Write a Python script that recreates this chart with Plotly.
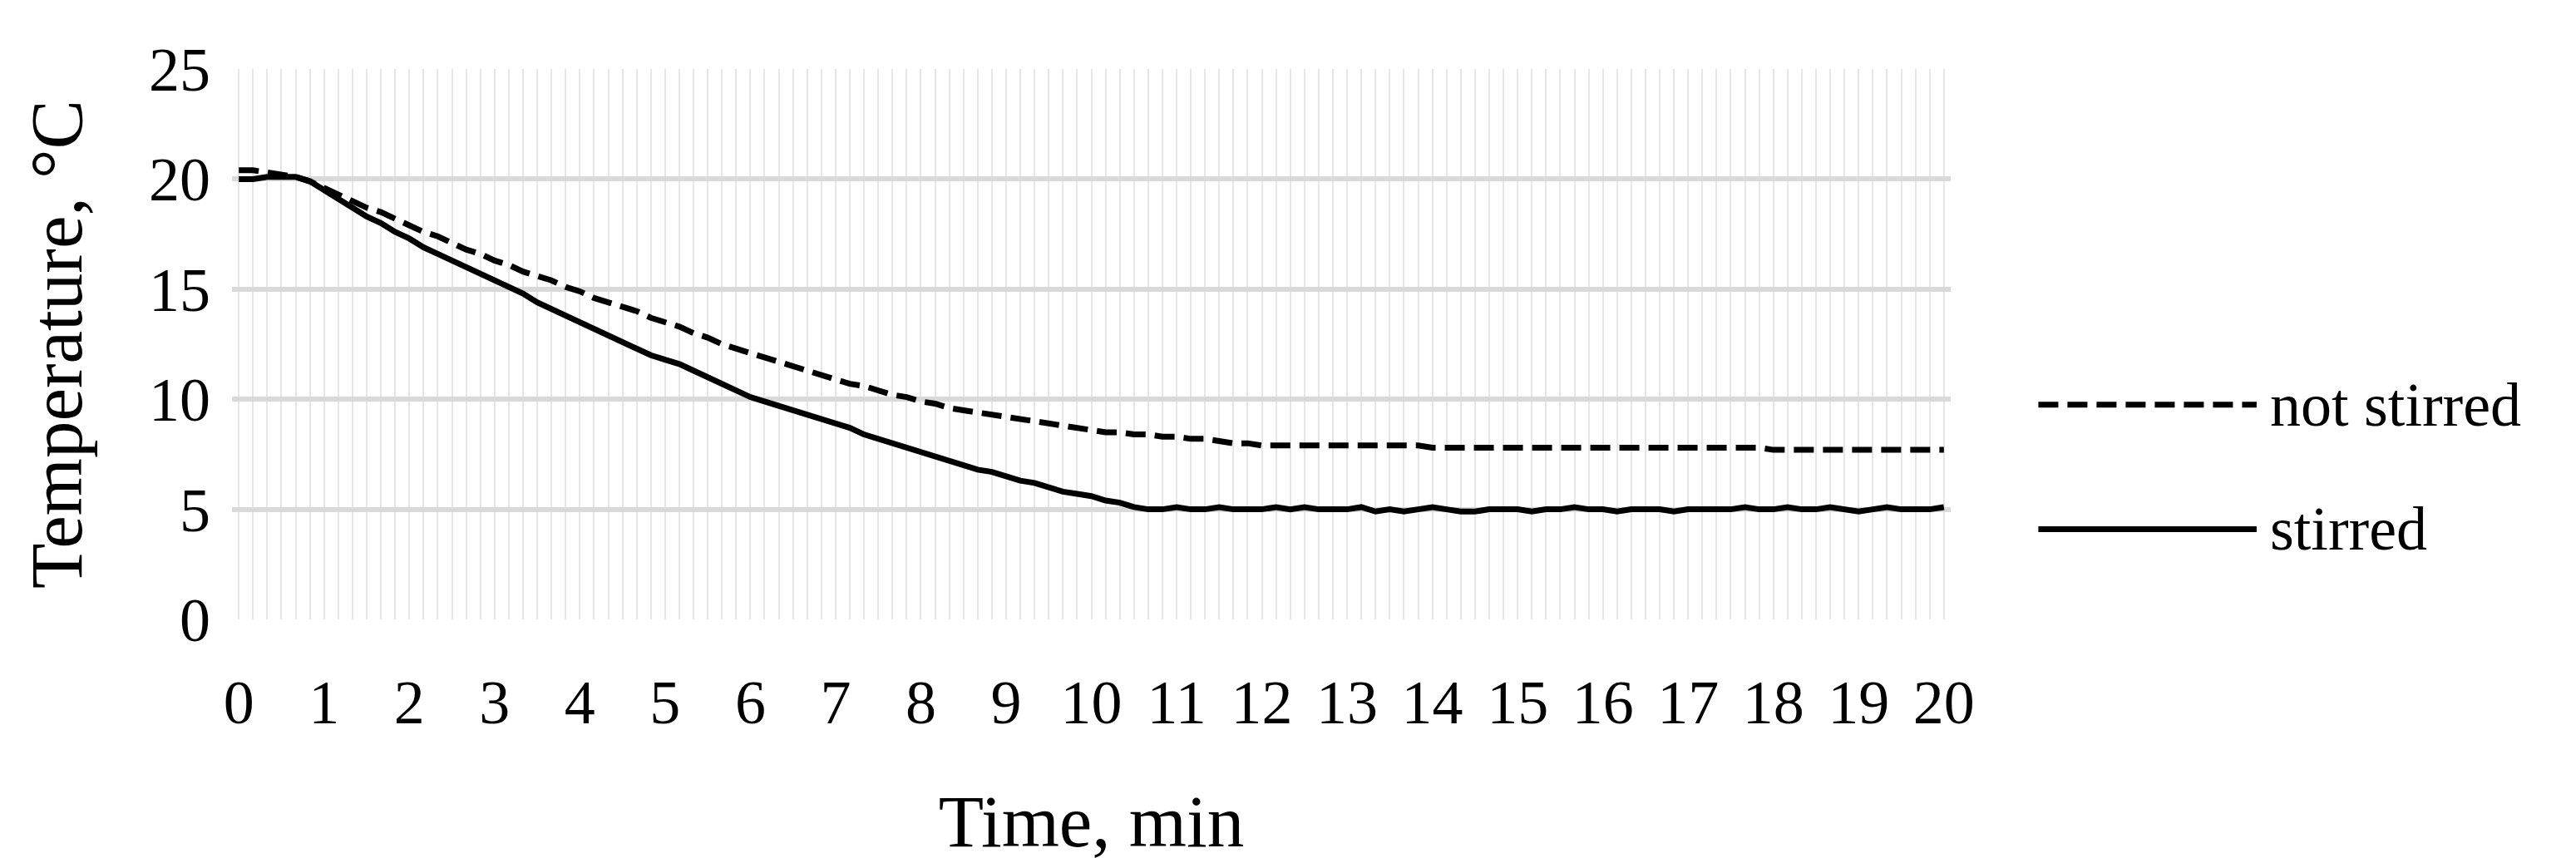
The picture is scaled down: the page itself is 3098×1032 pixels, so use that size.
import plotly.graph_objects as go

time_min = [i / 6 for i in range(121)]

not_stirred = [
    20.4, 20.4, 20.3, 20.2, 20.1, 19.9,
    19.6, 19.3, 19.0, 18.7, 18.5, 18.2,
    17.9, 17.6, 17.4, 17.1, 16.8, 16.6,
    16.3, 16.1, 15.8, 15.6, 15.4, 15.1,
    14.9, 14.6, 14.4, 14.2, 14.0, 13.7,
    13.5, 13.3, 13.0, 12.8, 12.5, 12.3,
    12.1, 11.9, 11.7, 11.5, 11.3, 11.1,
    10.9, 10.7, 10.6, 10.4, 10.2, 10.1,
    9.9, 9.8, 9.6, 9.5, 9.4, 9.3,
    9.2, 9.1, 9.0, 8.9, 8.8, 8.7,
    8.6, 8.5, 8.5, 8.4, 8.4, 8.3,
    8.3, 8.2, 8.2, 8.1, 8.0, 8.0,
    7.9, 7.9, 7.9, 7.9, 7.9, 7.9,
    7.9, 7.9, 7.9, 7.9, 7.9, 7.9,
    7.8, 7.8, 7.8, 7.8, 7.8, 7.8,
    7.8, 7.8, 7.8, 7.8, 7.8, 7.8,
    7.8, 7.8, 7.8, 7.8, 7.8, 7.8,
    7.8, 7.8, 7.8, 7.8, 7.8, 7.8,
    7.7, 7.7, 7.7, 7.7, 7.7, 7.7,
    7.7, 7.7, 7.7, 7.7, 7.7, 7.7,
    7.7,
]

stirred = [
    20.0, 20.0, 20.1, 20.1, 20.1, 19.9,
    19.5, 19.1, 18.7, 18.3, 18.0, 17.6,
    17.3, 16.9, 16.6, 16.3, 16.0, 15.7,
    15.4, 15.1, 14.8, 14.4, 14.1, 13.8,
    13.5, 13.2, 12.9, 12.6, 12.3, 12.0,
    11.8, 11.6, 11.3, 11.0, 10.7, 10.4,
    10.1, 9.9, 9.7, 9.5, 9.3, 9.1,
    8.9, 8.7, 8.4, 8.2, 8.0, 7.8,
    7.6, 7.4, 7.2, 7.0, 6.8, 6.7,
    6.5, 6.3, 6.2, 6.0, 5.8, 5.7,
    5.6, 5.4, 5.3, 5.1, 5.0, 5.0,
    5.1, 5.0, 5.0, 5.1, 5.0, 5.0,
    5.0, 5.1, 5.0, 5.1, 5.0, 5.0,
    5.0, 5.1, 4.9, 5.0, 4.9, 5.0,
    5.1, 5.0, 4.9, 4.9, 5.0, 5.0,
    5.0, 4.9, 5.0, 5.0, 5.1, 5.0,
    5.0, 4.9, 5.0, 5.0, 5.0, 4.9,
    5.0, 5.0, 5.0, 5.0, 5.1, 5.0,
    5.0, 5.1, 5.0, 5.0, 5.1, 5.0,
    4.9, 5.0, 5.1, 5.0, 5.0, 5.0,
    5.1,
]

x_ticks = list(range(0, 21))
y_ticks = [0, 5, 10, 15, 20, 25]
series_names = ["not stirred", "stirred"]

FONT = "Liberation Serif"
FS = 74
fig = go.Figure()
fig.add_trace(go.Scatter(x=time_min, y=not_stirred, mode="lines", name=series_names[0],
                         line=dict(color="black", width=7, dash="24px,11px")))
fig.add_trace(go.Scatter(x=time_min, y=stirred, mode="lines", name=series_names[1],
                         line=dict(color="black", width=7)))

fig.update_layout(
    width=3098, height=1032, showlegend=False,
    paper_bgcolor="white", plot_bgcolor="white",
    margin=dict(l=271, r=760, t=75, b=295),
    font=dict(family=FONT, size=FS, color="black"),
    xaxis=dict(range=[-0.08, 20.08], tickvals=x_ticks, ticks="", showline=False,
               showgrid=False, zeroline=False, ticklabelstandoff=50,
               minor=dict(tickvals=time_min, showgrid=True, gridcolor="#e6e6e6", gridwidth=2),
               title=dict(text="Time, min", standoff=70)),
    yaxis=dict(range=[0, 25], tickvals=y_ticks, showgrid=True, gridcolor="#d9d9d9",
               gridwidth=6, zeroline=False, ticks="", ticklen=0, ticklabelstandoff=25,
               title=dict(text="Temperature, °C", standoff=50)),
)

for yy, dash, name in [(0.39, "24px,11px", series_names[0]), (0.164, "solid", series_names[1])]:
    fig.add_shape(type="line", xref="paper", yref="paper", x0=1.051, x1=1.178, y0=yy, y1=yy,
                  line=dict(color="black", width=7, dash=dash))
    fig.add_annotation(xref="paper", yref="paper", x=1.185, y=yy, text=name, showarrow=False,
                       xanchor="left", yanchor="middle", font=dict(family=FONT, size=FS))

fig.write_html("out.html")
